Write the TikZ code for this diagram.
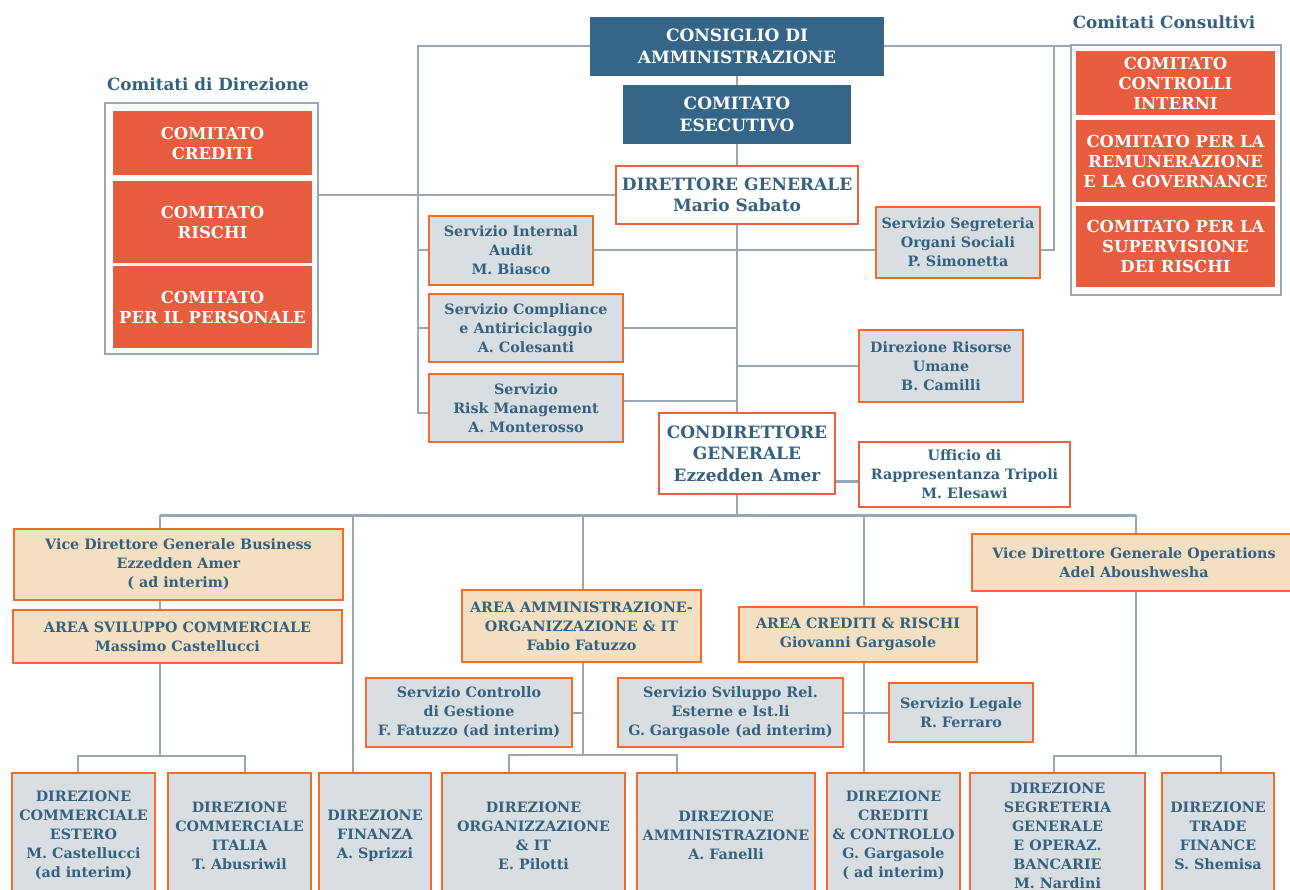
\documentclass[tikz,border=0pt]{standalone}
\usepackage{fontspec}
\setmainfont{DejaVu Serif}
\usetikzlibrary{calc}
\definecolor{dblue}{RGB}{54,102,135}
\definecolor{ored}{RGB}{232,92,64}
\definecolor{obord}{RGB}{243,106,45}
\definecolor{rbord}{RGB}{234,96,64}
\definecolor{grayf}{RGB}{217,222,226}
\definecolor{beige}{RGB}{243,223,193}
\definecolor{lgray}{RGB}{150,168,181}
\definecolor{txt}{RGB}{52,97,128}
\newcommand\bodyfont{\fontsize{14.3}{19}\selectfont\bfseries}
\newcommand\headfont{\fontsize{17}{21.5}\selectfont\bfseries}
\newcommand\commfont{\fontsize{16.5}{20}\selectfont\bfseries}
\newcommand\titlefont{\fontsize{16.8}{20}\selectfont\bfseries}
% box from its corners (x1,y1)-(x2,y2), in pixels measured downwards
\newcommand\bx[7]{\node[#6, minimum width={#4-#2}, minimum height={#5-#3}] (#1) at ({(#2+#4)/2},{(#3+#5)/2}) {#7};}
\pgfdeclarelayer{bg}
\pgfsetlayers{bg,main}
\tikzset{
  base/.style={rectangle, inner sep=0pt, outer sep=0pt, align=center, font=\bodyfont, text=txt},
  dark/.style={base, fill=dblue, text=white, font=\headfont},
  comm/.style={base, fill=ored, text=white, font=\commfont},
  chief/.style={base, fill=white, draw=rbord, line width=2.5pt, font=\headfont},
  office/.style={base, fill=white, draw=rbord, line width=2.5pt},
  serv/.style={base, fill=grayf, draw=obord, line width=2.5pt},
  area/.style={base, fill=beige, draw=obord, line width=2.5pt},
  frame/.style={base, draw=lgray, line width=2.5pt},
  ttl/.style={base, font=\titlefont},
  ln/.style={draw=lgray, line width=2pt},
  bus/.style={draw=lgray, line width=3pt},
}
\begin{document}
\begin{tikzpicture}[x=1pt,y=-1pt]
\useasboundingbox (0,0) rectangle (1290,890);
\begin{pgfonlayer}{bg}
\fill[white] (0,0) rectangle (1290,890);
\end{pgfonlayer}

% board and top management
\bx{cda}{590}{17}{884}{76}{dark}{CONSIGLIO DI\\AMMINISTRAZIONE}
\bx{ese}{623}{85}{851}{144}{dark}{COMITATO\\ESECUTIVO}
\bx{dg}{616}{166}{858}{224}{chief}{DIRETTORE GENERALE\\Mario Sabato}
\bx{cond}{659}{413}{835}{494}{chief}{CONDIRETTORE\\GENERALE\\Ezzedden Amer}
\bx{uff}{859}{442}{1070}{507}{office}{Ufficio di\\Rappresentanza Tripoli\\M. Elesawi}

% management committees
\node[ttl] (tD) at (208,84) {Comitati di Direzione};
\bx{fD}{105}{103}{318}{354}{frame}{}
\bx{cd1}{113}{111}{312}{175}{comm}{COMITATO\\CREDITI}
\bx{cd2}{113}{181}{312}{263}{comm}{COMITATO\\RISCHI}
\bx{cd3}{113}{266}{312}{348}{comm}{COMITATO\\PER IL PERSONALE}

% advisory committees
\node[ttl] (tC) at (1164,22) {Comitati Consultivi};
\bx{fC}{1071}{45}{1281}{295}{frame}{}
\bx{ck1}{1076}{51}{1275}{115}{comm}{COMITATO\\CONTROLLI\\INTERNI}
\bx{ck2}{1076}{120}{1275}{202}{comm}{COMITATO PER LA\\REMUNERAZIONE\\E LA GOVERNANCE}
\bx{ck3}{1076}{206}{1275}{287}{comm}{COMITATO PER LA\\SUPERVISIONE\\DEI RISCHI}

% staff services
\bx{audit}{429}{216}{593}{285}{serv}{Servizio Internal\\Audit\\M. Biasco}
\bx{compl}{429}{294}{623}{362}{serv}{Servizio Compliance\\e Antiriciclaggio\\A. Colesanti}
\bx{risk}{429}{374}{623}{442}{serv}{Servizio\\Risk Management\\A. Monterosso}
\bx{segr}{876}{207}{1040}{278}{serv}{Servizio Segreteria\\Organi Sociali\\P. Simonetta}
\bx{hr}{859}{330}{1023}{402}{serv}{Direzione Risorse\\Umane\\B. Camilli}

% areas
\bx{vbus}{14}{529}{343}{600}{area}{Vice Direttore Generale Business\\Ezzedden Amer\\( ad interim)}
\bx{asc}{13}{610}{342}{663}{area}{AREA SVILUPPO COMMERCIALE\\Massimo Castellucci}
\bx{aam}{462}{590}{701}{662}{area}{AREA AMMINISTRAZIONE-\\ORGANIZZAZIONE \& IT\\Fabio Fatuzzo}
\bx{acr}{739}{607}{977}{662}{area}{AREA CREDITI \& RISCHI\\Giovanni Gargasole}
\bx{vops}{972}{534}{1296}{591}{area}{Vice Direttore Generale Operations\\Adel Aboushwesha}

\bx{scg}{366}{678}{572}{747}{serv}{Servizio Controllo\\di Gestione\\F. Fatuzzo (ad interim)}
\bx{ssr}{618}{678}{843}{747}{serv}{Servizio Sviluppo Rel.\\Esterne e Ist.li\\G. Gargasole (ad interim)}
\bx{sleg}{889}{683}{1033}{742}{serv}{Servizio Legale\\R. Ferraro}

% departments
\bx{dce}{12}{773}{155}{898}{serv}{DIREZIONE\\COMMERCIALE\\ESTERO\\M. Castellucci\\(ad interim)}
\bx{dci}{168}{773}{311}{898}{serv}{DIREZIONE\\COMMERCIALE\\ITALIA\\T. Abusriwil}
\bx{dfi}{319}{773}{431}{898}{serv}{DIREZIONE\\FINANZA\\A. Sprizzi}
\bx{dor}{442}{773}{625}{898}{serv}{DIREZIONE\\ORGANIZZAZIONE\\\& IT\\E. Pilotti}
\bx{dam}{637}{773}{815}{898}{serv}{DIREZIONE\\AMMINISTRAZIONE\\A. Fanelli}
\bx{dcc}{827}{773}{960}{898}{serv}{DIREZIONE\\CREDITI\\\& CONTROLLO\\G. Gargasole\\( ad interim)}
\bx{dsg}{970}{773}{1145}{898}{serv}{DIREZIONE\\SEGRETERIA\\GENERALE\\E OPERAZ.\\BANCARIE\\M. Nardini}
\bx{dtf}{1162}{773}{1274}{898}{serv}{DIREZIONE\\TRADE\\FINANCE\\S. Shemisa}

% connectors
\begin{pgfonlayer}{bg}
% main column
\draw[ln] (cda) -- (ese);
\draw[ln] (ese) -- (dg);
\draw[ln] (dg.south) -- (dg.south |- cond.north);
% left bus of the board
\coordinate (lbt) at (418,46.5);
\coordinate (lbb) at (418,413);
\draw[ln] (cda.west) -- (lbt) -- (lbb) -- (lbb -| risk.west);
\draw[ln] (lbt |- audit.west) -- (audit.west);
\draw[ln] (lbt |- compl.west) -- (compl.west);
\draw[ln] (fD.east |- dg.west) -- (dg.west);
% right side of the board
\coordinate (rbt) at (1054,46.5);
\draw[ln] (cda.east) -- (cda.east -| fC.west);
\draw[ln] (audit.east) -- (audit.east -| segr.west);
\draw[ln] (segr.east |- audit.east) -| (rbt);
% staff links to the general manager
\coordinate (rk) at ([yshift=7pt]risk.east);
\draw[ln] (compl.east) -- (compl.east -| dg.south);
\draw[ln] (rk) -- (rk -| dg.south);
\draw[ln] (hr.west -| dg.south) -- (hr.west);
\coordinate (cu) at (0,481);
\draw[bus] (cond.east |- cu) -- (uff.west |- cu);
% main horizontal bus
\coordinate (busL) at (160,515);
\coordinate (busR) at (1136,515);
\coordinate (fx) at (353,515);
\coordinate (ax) at (583,515);
\coordinate (cx) at (864,515);
\draw[bus] (busL) -- (busR);
\draw[ln] (cond.south -| dg.south) -- (busL -| dg.south);
% business branch
\draw[ln] (busL) -- (busL |- vbus.north);
\draw[ln] (busL |- vbus.south) -- (busL |- asc.north);
\coordinate (sA1) at (78,756);
\coordinate (sA2) at (245,756);
\draw[ln] (busL |- asc.south) -- (busL |- sA1);
\draw[ln] (sA1 |- dce.north) -- (sA1) -- (sA2) -- (sA2 |- dci.north);
% finance
\draw[ln] (fx) -- (fx |- dfi.north);
% administration area
\coordinate (sB1) at (509,755);
\coordinate (sB2) at (677,755);
\draw[ln] (ax) -- (ax |- aam.north);
\draw[ln] (ax |- aam.south) -- (ax |- sB1);
\draw[ln] (sB1 |- dor.north) -- (sB1) -- (sB2) -- (sB2 |- dam.north);
\draw[ln] (scg.east) -- (scg.east -| ax);
% credit area
\draw[ln] (cx) -- (cx |- acr.north);
\draw[ln] (cx |- acr.south) -- (cx |- dcc.north);
\draw[ln] (ssr.east) -- (sleg.west);
% operations branch
\coordinate (sC1) at (1054,756);
\coordinate (sC2) at (1221,756);
\draw[ln] (busR) -- (busR |- vops.north);
\draw[ln] (busR |- vops.south) -- (busR |- sC1);
\draw[ln] (sC1 |- dsg.north) -- (sC1) -- (sC2) -- (sC2 |- dtf.north);
\end{pgfonlayer}
\end{tikzpicture}
\end{document}
